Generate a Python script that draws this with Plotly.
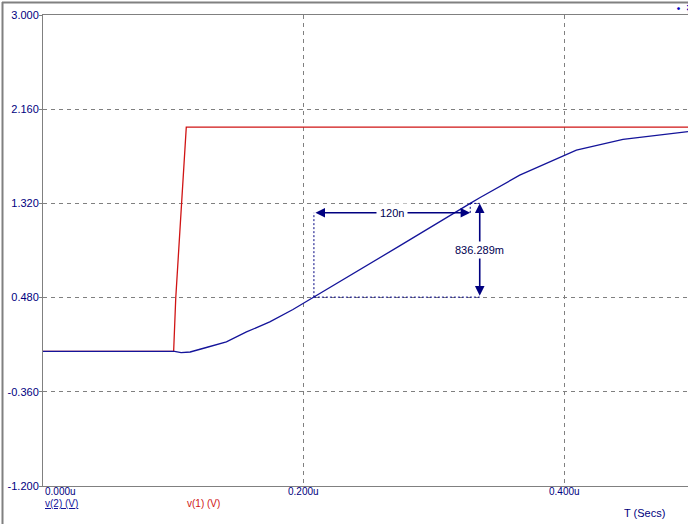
import plotly.graph_objects as go

# ---- data (time in microseconds, volts) ----
t_v2 = [0.000, 0.100, 0.101, 0.106, 0.113, 0.1254, 0.1408, 0.1562, 0.1741, 0.1919,
        0.208, 0.2738, 0.328, 0.3353, 0.3660, 0.4005, 0.4095, 0.4453, 0.4683, 0.4940, 0.4952]
v2 = [0.000, 0.000, 0.000, -0.010, -0.005, 0.035, 0.085, 0.174, 0.263, 0.374,
      0.484, 0.941, 1.320, 1.370, 1.572, 1.751, 1.795, 1.891, 1.923, 1.959, 1.960]

t_v1 = [0.000, 0.1003, 0.1019, 0.1063, 0.1088, 0.1100, 0.4952]
v1 = [0.000, 0.000, 0.472, 1.320, 1.704, 2.000, 2.000]

y_ticks = [-1.2, -0.36, 0.48, 1.32, 2.16, 3.0]
y_labels = ["-1.200", "-0.360", "0.480", "1.320", "2.160", "3.000"]
x_ticks = [0.0, 0.2, 0.4]
x_labels = ["0.000u", "0.200u", "0.400u"]

series_names = ["v(2) (V)", "v(1) (V)"]
x_title = "T (Secs)"

cursor_t = [0.208, 0.328]
cursor_v = [0.484, 1.320]
dt_label = "120n"
dv_label = "836.289m"

# ---- style ----
BLUE = "#14149a"
RED = "#d01414"
NAVY = "#000080"
GRAY = "#808080"
FONT = "Liberation Sans"

W, H = 688, 524
L, R, T, B = 43, 0, 15, 38
PW, PH = W - L - R, H - T - B

def px_x(p):
    return (p - L) / PW

def px_y(p):
    return (H - B - p) / PH

x_range = [0, 0.4952]
y_range = [-1.2, 3.0]

fig = go.Figure()
fig.add_trace(go.Scatter(x=t_v1, y=v1, mode="lines", name=series_names[1],
                         line=dict(color=RED, width=1.3)))
fig.add_trace(go.Scatter(x=t_v2, y=v2, mode="lines", name=series_names[0],
                         line=dict(color=BLUE, width=1.3)))

fig.update_layout(
    width=W, height=H, margin=dict(l=L, r=R, t=T, b=B, pad=0, autoexpand=False),
    paper_bgcolor="white", plot_bgcolor="white", showlegend=False,
    font=dict(family=FONT, size=11, color=NAVY),
)
fig.update_xaxes(range=x_range, tickvals=x_ticks, showticklabels=False,
                 showgrid=True, gridcolor=GRAY, griddash="4px,4px", gridwidth=1,
                 showline=True, linecolor=GRAY, linewidth=1, mirror=True,
                 zeroline=False, ticks="", automargin=False)
fig.update_yaxes(range=y_range, tickvals=y_ticks, ticktext=y_labels,
                 showgrid=True, gridcolor=GRAY, griddash="4px,4px", gridwidth=1,
                 showline=True, linecolor=GRAY, linewidth=1,
                 zeroline=False, ticks="outside", ticklen=3, tickcolor=GRAY,
                 tickfont=dict(family=FONT, size=11, color=NAVY),
                 ticklabelstandoff=-2, automargin=False)

# x tick labels
for i, (xv, lab) in enumerate(zip(x_ticks, x_labels)):
    fig.add_annotation(x=xv, y=px_y(491), xref="x", yref="paper", text=lab,
                       showarrow=False, xanchor="left" if i == 0 else "center",
                       yanchor="middle", font=dict(family=FONT, size=10, color=NAVY))

# legend-like labels and axis title
fig.add_annotation(x=px_x(43), y=px_y(503), xref="paper", yref="paper",
                   text="<u>" + series_names[0] + "</u>", showarrow=False,
                   xanchor="left", yanchor="middle",
                   font=dict(family=FONT, size=10, color=BLUE))
fig.add_annotation(x=px_x(185), y=px_y(503), xref="paper", yref="paper",
                   text=series_names[1], showarrow=False,
                   xanchor="left", yanchor="middle",
                   font=dict(family=FONT, size=10, color=RED))
fig.add_annotation(x=px_x(622), y=px_y(513), xref="paper", yref="paper",
                   text=x_title, showarrow=False, xanchor="left", yanchor="middle",
                   font=dict(family=FONT, size=11, color=NAVY))
fig.add_annotation(x=px_x(671), y=px_y(8), xref="paper", yref="paper",
                   text="<b>· 祥</b>", showarrow=False, xanchor="left", yanchor="middle",
                   font=dict(family="Noto Sans CJK SC", size=11, color="#0000c0"))

# window frame lines
fig.add_shape(type="line", xref="paper", yref="paper",
              x0=px_x(2.5), x1=px_x(2.5), y0=px_y(2), y1=px_y(H + 2),
              line=dict(color=GRAY, width=2))
fig.add_shape(type="line", xref="paper", yref="paper",
              x0=px_x(2), x1=px_x(W + 2), y0=px_y(2.5), y1=px_y(2.5),
              line=dict(color=GRAY, width=2))

# measurement cursors
arrow_y = 1.236      # level of the horizontal dimension arrow
arrow_x = 0.3353     # position of the vertical dimension arrow
dot = dict(color=NAVY, width=1, dash="2px,2px")
fig.add_shape(type="line", x0=cursor_t[0], x1=cursor_t[0], y0=cursor_v[0], y1=arrow_y, line=dot)
fig.add_shape(type="line", x0=cursor_t[0], x1=arrow_x, y0=cursor_v[0], y1=cursor_v[0], line=dot)
fig.add_shape(type="line", x0=cursor_t[1], x1=cursor_t[1], y0=arrow_y, y1=cursor_v[1], line=dot)
fig.add_shape(type="line", x0=cursor_t[1], x1=arrow_x, y0=cursor_v[1], y1=cursor_v[1], line=dot)

fig.add_annotation(x=cursor_t[1], y=arrow_y, ax=cursor_t[0], ay=arrow_y,
                   xref="x", yref="y", axref="x", ayref="y", text="",
                   showarrow=True, arrowside="end+start", arrowhead=2,
                   arrowsize=1.2, arrowwidth=1.6, arrowcolor=NAVY)
fig.add_annotation(x=arrow_x, y=cursor_v[1], ax=arrow_x, ay=cursor_v[0],
                   xref="x", yref="y", axref="x", ayref="y", text="",
                   showarrow=True, arrowside="end+start", arrowhead=2,
                   arrowsize=1.2, arrowwidth=1.6, arrowcolor=NAVY)
fig.add_annotation(x=(cursor_t[0] + cursor_t[1]) / 2, y=arrow_y, xref="x", yref="y",
                   text=dt_label, showarrow=False, bgcolor="white", borderpad=3,
                   font=dict(family=FONT, size=11, color="#000050"))
fig.add_annotation(x=arrow_x, y=(cursor_v[0] + cursor_v[1]) / 2, xref="x", yref="y",
                   text=dv_label, showarrow=False, bgcolor="white", borderpad=2,
                   font=dict(family=FONT, size=11, color="#000050"))

fig.write_html("out.html", config={"displayModeBar": False},
               post_script="document.body.style.margin='0';document.body.style.padding='0';")
